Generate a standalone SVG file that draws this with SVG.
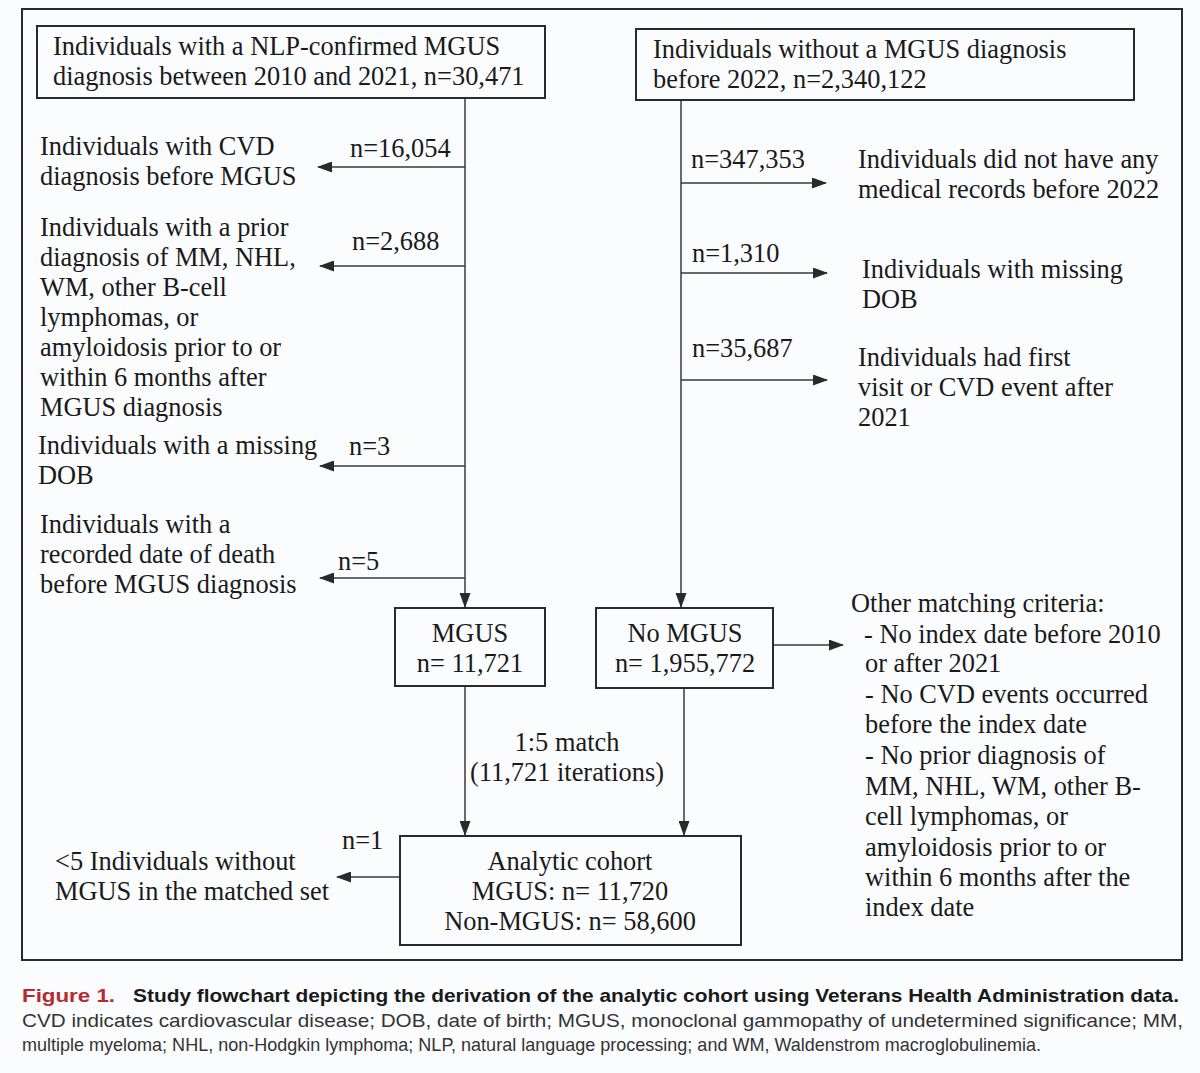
<svg xmlns="http://www.w3.org/2000/svg" width="1200" height="1073" viewBox="0 0 1200 1073">
<defs>
<marker id="ah" markerWidth="15" markerHeight="11" refX="14" refY="5.5" orient="auto" markerUnits="userSpaceOnUse">
<path d="M0,0 L15,5.5 L0,11 Z" fill="#2a2a2a"/>
</marker>
<style>
.t{font-family:"Liberation Serif","Times New Roman",serif;font-size:26.4px;fill:#1a1a1a}
.c{text-anchor:middle}
.box{fill:none;stroke:#2a2a2a;stroke-width:2}
.arr{fill:none;stroke:#3a3a3a;stroke-width:1.5;marker-end:url(#ah)}
.cap{font-family:"Liberation Sans",Arial,sans-serif;font-size:19px}
</style>
</defs>
<rect x="0" y="0" width="1200" height="1073" fill="#fbfcfe"/>
<rect x="22" y="9" width="1160" height="951" fill="none" stroke="#2a2a2a" stroke-width="2"/>

<g id="connectors">
<line class="arr" x1="465" y1="98" x2="465" y2="607"/>
<line class="arr" x1="465" y1="167" x2="318" y2="167"/>
<line class="arr" x1="465" y1="266" x2="320" y2="266"/>
<line class="arr" x1="465" y1="466" x2="320" y2="466"/>
<line class="arr" x1="465" y1="578" x2="320" y2="578"/>
<line class="arr" x1="681" y1="100" x2="681" y2="607"/>
<line class="arr" x1="681" y1="183" x2="826" y2="183"/>
<line class="arr" x1="681" y1="273" x2="827" y2="273"/>
<line class="arr" x1="681" y1="380" x2="827" y2="380"/>
<line class="arr" x1="773" y1="645" x2="843" y2="645"/>
<line class="arr" x1="465" y1="686" x2="465" y2="835"/>
<line class="arr" x1="684" y1="688" x2="684" y2="835"/>
<line class="arr" x1="400" y1="877" x2="337" y2="877"/>
<text class="t" x="350" y="157">n=16,054</text>
<text class="t" x="352" y="250">n=2,688</text>
<text class="t" x="349" y="455">n=3</text>
<text class="t" x="338" y="570">n=5</text>
<text class="t" x="691" y="168">n=347,353</text>
<text class="t" x="692" y="262">n=1,310</text>
<text class="t" x="692" y="357">n=35,687</text>
<text class="t c" x="567" y="751">1:5 match</text>
<text class="t c" x="567" y="781">(11,721 iterations)</text>
<text class="t" x="342" y="849">n=1</text>
</g>

<g id="n-mgus-source">
<rect class="box" x="37" y="26" width="508" height="72"/>
<text class="t" x="53" y="55">Individuals with a NLP-confirmed MGUS</text>
<text class="t" x="53" y="85">diagnosis between 2010 and 2021, n=30,471</text>
</g>
<g id="n-nomgus-source">
<rect class="box" x="636" y="29" width="498" height="71"/>
<text class="t" x="653" y="58">Individuals without a MGUS diagnosis</text>
<text class="t" x="653" y="88">before 2022, n=2,340,122</text>
</g>
<g id="n-ex-cvd">
<text class="t" x="40" y="155">Individuals with CVD</text>
<text class="t" x="40" y="185">diagnosis before MGUS</text>
</g>
<g id="n-ex-prior">
<text class="t" x="40" y="236">Individuals with a prior</text>
<text class="t" x="40" y="266">diagnosis of MM, NHL,</text>
<text class="t" x="40" y="296">WM, other B-cell</text>
<text class="t" x="40" y="326">lymphomas, or</text>
<text class="t" x="40" y="356">amyloidosis prior to or</text>
<text class="t" x="40" y="386">within 6 months after</text>
<text class="t" x="40" y="416">MGUS diagnosis</text>
</g>
<g id="n-ex-dob">
<text class="t" x="38" y="454">Individuals with a missing</text>
<text class="t" x="38" y="484">DOB</text>
</g>
<g id="n-ex-death">
<text class="t" x="40" y="533">Individuals with a</text>
<text class="t" x="40" y="563">recorded date of death</text>
<text class="t" x="40" y="593">before MGUS diagnosis</text>
</g>
<g id="n-ex-records">
<text class="t" x="858" y="168">Individuals did not have any</text>
<text class="t" x="858" y="198">medical records before 2022</text>
</g>
<g id="n-ex-dob2">
<text class="t" x="862" y="278">Individuals with missing</text>
<text class="t" x="862" y="308">DOB</text>
</g>
<g id="n-ex-visit">
<text class="t" x="858" y="366">Individuals had first</text>
<text class="t" x="858" y="396">visit or CVD event after</text>
<text class="t" x="858" y="426">2021</text>
</g>
<g id="n-mgus">
<rect class="box" x="395" y="608" width="150" height="78"/>
<text class="t c" x="470" y="642">MGUS</text>
<text class="t c" x="470" y="672">n= 11,721</text>
</g>
<g id="n-nomgus">
<rect class="box" x="596" y="608" width="177" height="80"/>
<text class="t c" x="685" y="642">No MGUS</text>
<text class="t c" x="685" y="672">n= 1,955,772</text>
</g>
<g id="n-criteria">
<text class="t" x="851" y="612">Other matching criteria:</text>
<text class="t" x="864" y="643">- No index date before 2010</text>
<text class="t" x="865" y="672">or after 2021</text>
<text class="t" x="865" y="703">- No CVD events occurred</text>
<text class="t" x="865" y="733">before the index date</text>
<text class="t" x="865" y="764">- No prior diagnosis of</text>
<text class="t" x="865" y="795">MM, NHL, WM, other B-</text>
<text class="t" x="865" y="825">cell lymphomas, or</text>
<text class="t" x="865" y="856">amyloidosis prior to or</text>
<text class="t" x="865" y="886">within 6 months after the</text>
<text class="t" x="865" y="916">index date</text>
</g>
<g id="n-cohort">
<rect class="box" x="400" y="836" width="341" height="109"/>
<text class="t c" x="570" y="870">Analytic cohort</text>
<text class="t c" x="570" y="900">MGUS: n= 11,720</text>
<text class="t c" x="570" y="930">Non-MGUS: n= 58,600</text>
</g>
<g id="n-ex-matched">
<text class="t" x="55" y="870">&lt;5 Individuals without</text>
<text class="t" x="55" y="900">MGUS in the matched set</text>
</g>

<g id="caption">
<text class="cap" x="22" y="1002" font-weight="bold" fill="#b72a2e" textLength="93" lengthAdjust="spacingAndGlyphs">Figure 1.</text>
<text class="cap" x="133" y="1002" font-weight="bold" fill="#1a1a1a" textLength="1046" lengthAdjust="spacingAndGlyphs">Study flowchart depicting the derivation of the analytic cohort using Veterans Health Administration data.</text>
<text class="cap" x="22" y="1027" fill="#333" textLength="1161" lengthAdjust="spacingAndGlyphs">CVD indicates cardiovascular disease; DOB, date of birth; MGUS, monoclonal gammopathy of undetermined significance; MM,</text>
<text class="cap" x="22" y="1051" fill="#333" textLength="1019" lengthAdjust="spacingAndGlyphs">multiple myeloma; NHL, non-Hodgkin lymphoma; NLP, natural language processing; and WM, Waldenstrom macroglobulinemia.</text>
</g>
</svg>
